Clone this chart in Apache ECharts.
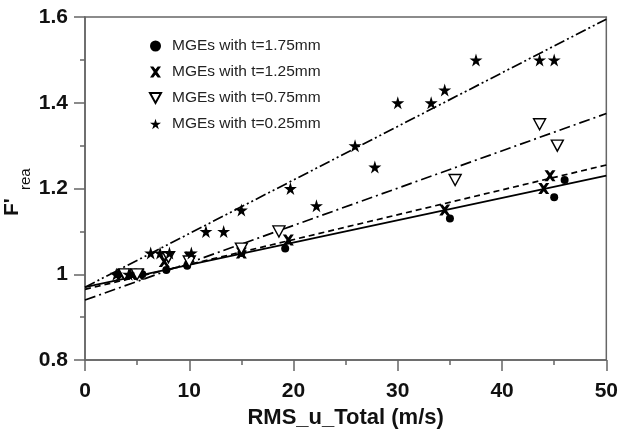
<!DOCTYPE html>
<html><head><meta charset="utf-8">
<script src="https://cdn.jsdelivr.net/npm/echarts@6/dist/echarts.min.js"></script>
<style>html,body{margin:0;padding:0;background:#fff}#c{width:621px;height:434px}</style>
</head><body><div id="c"></div>
<script>
const seriesNames = ['MGEs with t=1.75mm','MGEs with t=1.25mm','MGEs with t=0.75mm','MGEs with t=0.25mm'];
const pts175 = [[3.2,1.0],[4.0,1.0],[4.8,1.0],[5.5,1.0],[7.8,1.01],[9.8,1.02],[15,1.05],[19.2,1.06],[35,1.13],[45,1.18],[46,1.22]];
const pts125 = [[3.5,1.0],[4.5,1.0],[5.2,1.0],[7.6,1.03],[10,1.04],[15,1.05],[19.5,1.08],[34.5,1.15],[44,1.20],[44.6,1.23]];
const pts075 = [[3.8,1.0],[5,1.0],[8,1.04],[10,1.03],[15,1.06],[18.6,1.10],[35.5,1.22],[43.6,1.35],[45.3,1.30]];
const pts025 = [[3,1.0],[4.2,1.0],[6.3,1.05],[7.2,1.05],[8.1,1.05],[10.2,1.05],[11.6,1.10],[13.3,1.10],[15,1.15],[19.7,1.20],[22.2,1.16],[25.9,1.30],[27.8,1.25],[30,1.40],[33.2,1.40],[34.5,1.43],[37.5,1.50],[43.6,1.50],[45,1.50]];
const fit175 = [[0,0.97],[50,1.23]];
const fit125 = [[0,0.965],[50,1.255]];
const fit075 = [[0,0.94],[50,1.375]];
const fit025 = [[0,0.97],[50,1.595]];
const xTicks = [0,10,20,30,40,50];
const yTicks = [0.8,1.0,1.2,1.4,1.6];

const XPATH = 'path://M0,0 L3,0 L5,2.6 L7,0 L10,0 L6.6,5 L10,10 L7,10 L5,7.4 L3,10 L0,10 L3.4,5 Z';
const STAR = 'path://M50,0 L61,35 L98,35 L68,57 L79,91 L50,70 L21,91 L32,57 L2,35 L39,35 Z';
const TRI = 'path://M0,0 L10,0 L5,9 Z';

const chart = echarts.init(document.getElementById('c'));
const FONT = 'Liberation Sans, Arial, sans-serif';
const axisFont = {fontFamily:FONT, fontWeight:'bold', fontSize:21, color:'#111'};
const AX = '#666';
function fitLine(data, type){
  return {type:'line', data:data, symbol:'none', silent:true, z:1,
    lineStyle:{color:'#000', width:1.7, type:type}};
}
chart.setOption({
  animation:false,
  grid:{left:85, right:14, top:17, bottom:71, show:true, borderColor:AX, borderWidth:1.5, backgroundColor:'transparent'},
  legend:{orient:'vertical', left:144, top:33, itemGap:10, itemWidth:11, itemHeight:11,
    textStyle:{fontFamily:FONT, fontSize:15.5, color:'#222', padding:[0,0,0,6]},
    data:seriesNames},
  xAxis:{type:'value', min:xTicks[0], max:xTicks[xTicks.length-1], interval:10,
    name:'RMS_u_Total (m/s)', nameLocation:'middle', nameGap:43,
    nameTextStyle:{fontFamily:FONT, fontWeight:'bold', fontSize:22, color:'#111'},
    axisLine:{lineStyle:{color:AX, width:1.5}},
    axisTick:{show:true, inside:false, length:11, lineStyle:{color:AX, width:1.5}},
    minorTick:{show:true, splitNumber:2, length:5, lineStyle:{color:AX, width:1.5}},
    splitLine:{show:false},
    axisLabel:Object.assign({margin:21}, axisFont)},
  yAxis:{type:'value', min:yTicks[0], max:yTicks[yTicks.length-1], interval:0.2,
    axisLine:{show:true, lineStyle:{color:AX, width:1.5}},
    axisTick:{show:true, inside:false, length:11, lineStyle:{color:AX, width:1.5}},
    minorTick:{show:true, splitNumber:2, length:5, lineStyle:{color:AX, width:1.5}},
    splitLine:{show:false},
    axisLabel:Object.assign({margin:17}, axisFont)},
  graphic:[
    {type:'text', x:12, y:216, rotation:Math.PI/2, style:{text:"F'", fontFamily:FONT, fontWeight:'bold', fontSize:21, fill:'#111', align:'left', verticalAlign:'middle'}},
    {type:'text', x:26, y:190, rotation:Math.PI/2, style:{text:'rea', fontFamily:FONT, fontSize:15, fill:'#111', align:'left', verticalAlign:'middle'}}
  ],
  series:[
    fitLine(fit175,'solid'),
    fitLine(fit125,[6,4]),
    fitLine(fit075,[11,4,2,4]),
    fitLine(fit025,[11,3,2,3,2,3]),
    {name:seriesNames[0], type:'scatter', data:pts175, symbol:'circle', symbolSize:8, z:3, itemStyle:{color:'#000', opacity:1}},
    {name:seriesNames[1], type:'scatter', data:pts125, symbol:XPATH, symbolSize:11, z:3, itemStyle:{color:'#000', opacity:1}},
    {name:seriesNames[2], type:'scatter', data:pts075, symbol:TRI, symbolSize:[12,11], z:3, itemStyle:{color:'#fff', borderColor:'#000', borderWidth:1.4, opacity:1}},
    {name:seriesNames[3], type:'scatter', data:pts025, symbol:STAR, symbolSize:13, z:3, itemStyle:{color:'#000', opacity:1}}
  ]
});
</script></body></html>
